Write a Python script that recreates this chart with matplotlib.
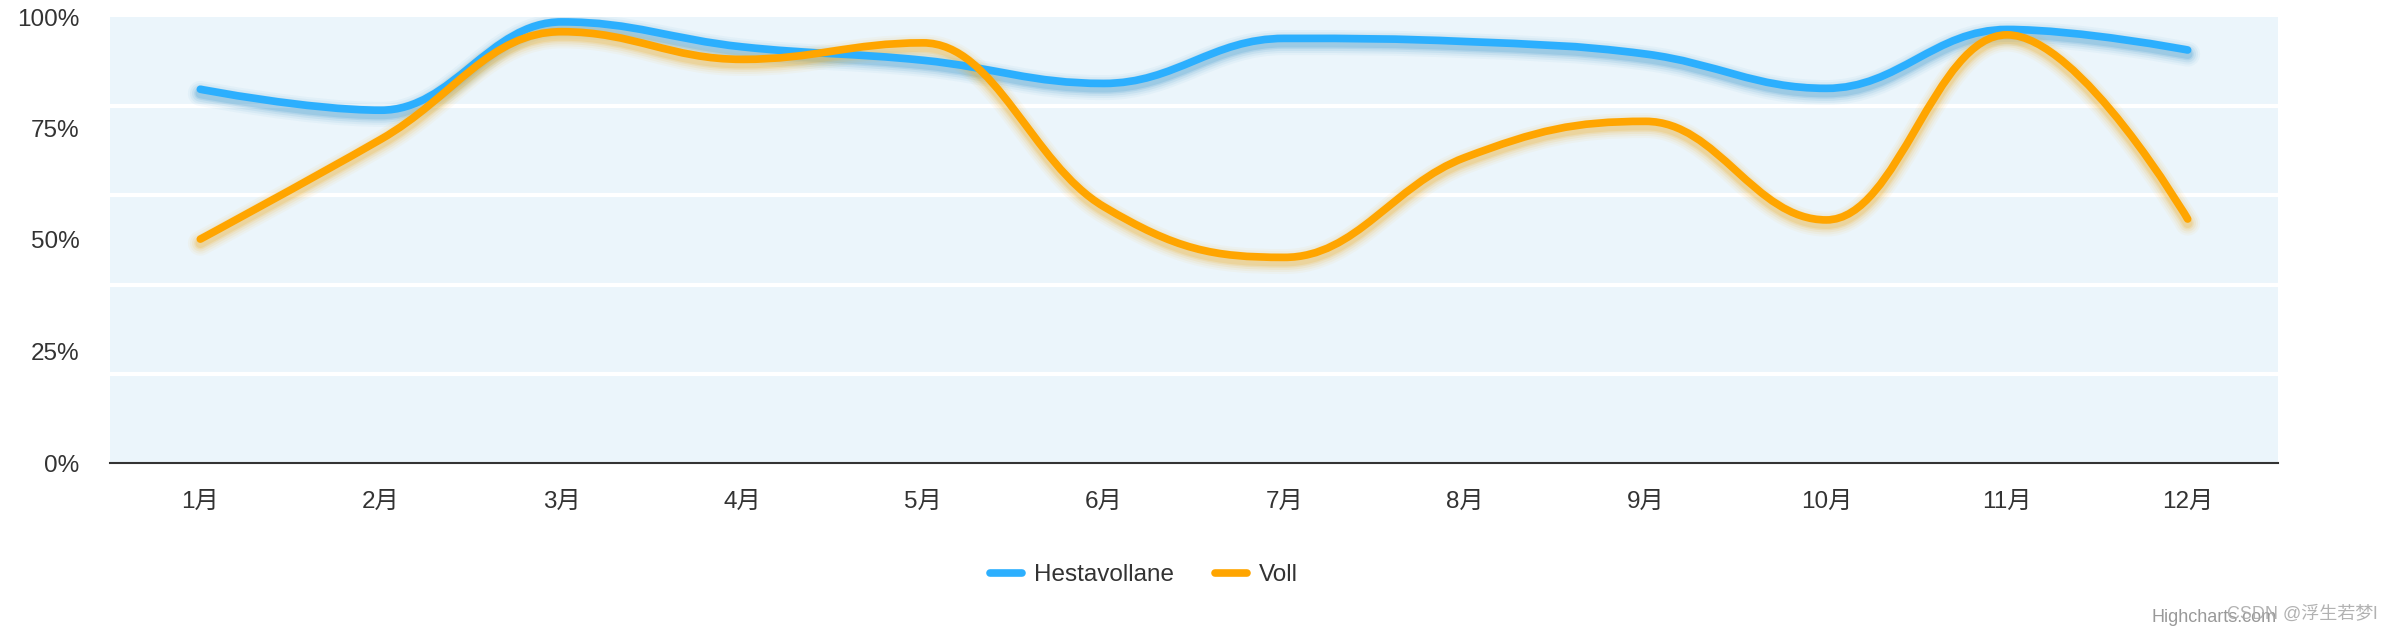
import matplotlib
matplotlib.use('Agg')
import matplotlib.pyplot as plt
from matplotlib.path import Path
from matplotlib.patches import PathPatch
from matplotlib.lines import Line2D
from matplotlib import transforms

plt.rcParams['font.family'] = ['Liberation Sans', 'Noto Sans CJK SC', 'DejaVu Sans']

# data (percent)
months = ['1月', '2月', '3月', '4月', '5月', '6月', '7月', '8月', '9月', '10月', '11月', '12月']
hestavollane = [83.8, 79.1, 98.9, 93.3, 90.3, 85.1, 95.2, 94.5, 91.7, 84.0, 97.2, 92.6]
voll = [50.2, 72.6, 96.7, 90.5, 94.2, 57.5, 46.1, 68.5, 76.6, 54.5, 96.0, 54.7]
y_ticks = [0, 25, 50, 75, 100]
grid_lines = [20, 40, 60, 80]

blue = '#2caffe'
orange = '#ffa500'

W, H = 2393, 633
fig = plt.figure(figsize=(W / 100, H / 100), dpi=100)
ax = fig.add_axes([110 / W, 1 - 463 / H, 2168 / W, (463 - 17) / H])
ax.set_facecolor('#ebf5fb')
ax.set_xlim(-0.5, 11.5)
ax.set_ylim(0, 100)
for s in ['top', 'right', 'left']:
    ax.spines[s].set_visible(False)
ax.spines['bottom'].set_color('#333333')
ax.spines['bottom'].set_linewidth(1.5)

for g in grid_lines:
    ax.axhline(g, color='white', lw=3, zorder=1)


def spline_path(xs, ys, smoothing=1.5):
    # highcharts style spline control points
    n = len(xs)
    lc = [(x, y) for x, y in zip(xs, ys)]
    rc = [(x, y) for x, y in zip(xs, ys)]
    denom = smoothing + 1
    for i in range(1, n - 1):
        px, py = xs[i], ys[i]
        lx, ly = xs[i - 1], ys[i - 1]
        nx, ny = xs[i + 1], ys[i + 1]
        lcx = (smoothing * px + lx) / denom
        lcy = (smoothing * py + ly) / denom
        rcx = (smoothing * px + nx) / denom
        rcy = (smoothing * py + ny) / denom
        if rcx != lcx:
            corr = ((rcy - lcy) * (rcx - px)) / (rcx - lcx) + py - rcy
            lcy += corr
            rcy += corr
        if lcy > ly and lcy > py:
            lcy = max(ly, py)
            rcy = 2 * py - lcy
        elif lcy < ly and lcy < py:
            lcy = min(ly, py)
            rcy = 2 * py - lcy
        if rcy > py and rcy > ny:
            rcy = max(py, ny)
            lcy = 2 * py - rcy
        elif rcy < py and rcy < ny:
            rcy = min(py, ny)
            lcy = 2 * py - rcy
        lc[i] = (lcx, lcy)
        rc[i] = (rcx, rcy)
    verts = [(xs[0], ys[0])]
    codes = [Path.MOVETO]
    for i in range(1, n):
        verts += [rc[i - 1], lc[i], (xs[i], ys[i])]
        codes += [Path.CURVE4] * 3
    return Path(verts, codes)


x = list(range(len(months)))
shift = transforms.ScaledTranslation(0, -3 / 72, fig.dpi_scale_trans)
for vals, col, shcol in [(hestavollane, blue, '#3d98cc'), (voll, orange, '#f0b02a')]:
    p = spline_path(x, vals)
    for lw, a in [(18, 0.05), (15, 0.07), (12, 0.10), (9, 0.14), (7, 0.18)]:
        ax.add_patch(PathPatch(p, fill=False, edgecolor=shcol, lw=lw, alpha=a,
                               capstyle='round', joinstyle='round',
                               transform=ax.transData + shift, zorder=2))
    ax.add_patch(PathPatch(p, fill=False, edgecolor=col, lw=5.5,
                           capstyle='round', joinstyle='round', zorder=3))

ax.set_xticks(x)
ax.set_xticklabels(months)
ax.set_yticks(y_ticks)
ax.set_yticklabels([f'{v}%' for v in y_ticks])
ax.tick_params(axis='x', length=0, pad=20, labelsize=17.5, labelcolor='#333333')
ax.tick_params(axis='y', length=0, pad=22, labelsize=17.5, labelcolor='#333333')

handles = [Line2D([], [], color=blue, lw=5.5, solid_capstyle='round'),
           Line2D([], [], color=orange, lw=5.5, solid_capstyle='round')]
fig.legend(handles, ['Hestavollane', 'Voll'], loc='center', ncol=2, frameon=False,
           bbox_to_anchor=(1144 / W, 1 - 575 / H), fontsize=17.5, labelcolor='#333333',
           handlelength=1.3, handletextpad=0.5, columnspacing=1.7)

fig.text(2277 / W, 1 - 617 / H, 'Highcharts.com', ha='right', va='center',
         fontsize=13, color='#999999')
fig.text(2377 / W, 1 - 614 / H, 'CSDN @浮生若梦l', ha='right', va='center',
         fontsize=13, color='#aaaaaa', alpha=0.9)

fig.savefig('out.png', dpi=100)
